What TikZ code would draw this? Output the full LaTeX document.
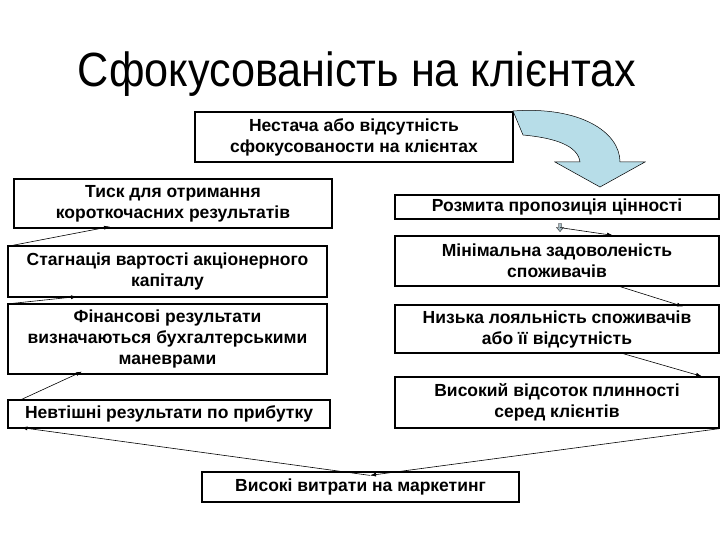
\documentclass[tikz,border=0pt]{standalone}
\usepackage{fontspec}
\setmainfont{Liberation Sans}
\newfontfamily\titlefont[FakeStretch=0.9]{Liberation Sans}
\usetikzlibrary{arrows.meta, positioning, calc}
\definecolor{arrowblue}{HTML}{B7DDE8}
\definecolor{icongray}{HTML}{A7BCC4}

\begin{document}
\begin{tikzpicture}[x=1pt, y=-1pt, >={Latex[length=6pt,width=4pt]},
  box/.style={draw, line width=1.2pt, align=center, inner sep=0pt,
    font=\fontsize{17.5}{21}\selectfont\bfseries},
  link/.style={->, line width=0.6pt}]
  \useasboundingbox (0,0) rectangle (720,540);

  % Title
  \node (title) at (357,74) {\titlefont\fontsize{48}{48}\selectfont Сфокусованість на клієнтах};

  % Top box and the curved block arrow
  \node[box, minimum width=318pt, minimum height=50pt] (lack) at (354,137)
    {Нестача або відсутність\\сфокусованости на клієнтах};
  \draw[fill=arrowblue, line width=0.5pt]
    (513,111) .. controls (580,106) and (620,132) .. (620,162)
    -- (645,162) -- (600,187) -- (555,162) -- (580,162)
    .. controls (578,146) and (556,138) .. (523,135) -- cycle;

  % Left column
  \node[box, minimum width=318pt, minimum height=49pt] (press) at (173,203.5)
    {Тиск для отримання\\короткочасних результатів};
  \node[box, minimum width=319pt, minimum height=51pt] (stag) at (167.5,271.5)
    {Стагнація вартості акціонерного\\капіталу};
  \node[box, minimum width=319pt, minimum height=70pt] (fin) at (167.5,339)
    {Фінансові результати\\визначаються бухгалтерськими\\маневрами};
  \node[box, minimum width=322pt, minimum height=28pt] (loss) at (169,414)
    {Невтішні результати по прибутку};

  % Right column
  \node[box, minimum width=324pt, minimum height=24pt] (blur) at (557,207)
    {Розмита пропозиція цінності};
  \node[box, minimum width=324pt, minimum height=50pt] (sat) at (557,261)
    {Мінімальна задоволеність\\споживачів};
  \node[box, minimum width=324pt, minimum height=48pt] (loyal) at (557,329)
    {Низька лояльність споживачів\\або її відсутність};
  \node[box, minimum width=324pt, minimum height=51pt] (churn) at (557,402.5)
    {Високий відсоток плинності\\серед клієнтів};

  % Bottom box
  \node[box, minimum width=317pt, minimum height=30pt] (cost) at (360.5,487)
    {Високі витрати на маркетинг};

  % small icon under the first right box
  \coordinate (blurtail) at ($(blur.south)+(3,8)$);
  \draw[fill=icongray, line width=0.3pt, shift={(blurtail)}]
    (-1.5,-4) -- (1.5,-4) -- (1.5,0) -- (3.5,0) -- (0,4) -- (-3.5,0) -- (-1.5,0) -- cycle;

  % connectors
  \draw[link] (blurtail) -- ([xshift=56pt]sat.north);
  \draw[link] ([xshift=63pt]sat.south) -- ([xshift=126pt,yshift=-2pt]loyal.north);
  \draw[link] ([xshift=66pt]loyal.south) -- ([xshift=145pt]churn.north);
  \draw[link] (churn.south east) -- ([xshift=9.5pt,yshift=-4pt]cost.north);
  \draw[link] ([xshift=9.5pt,yshift=-4pt]cost.north) -- ([xshift=14pt,yshift=1pt]loss.south west);
  \draw[link] ([xshift=12pt,yshift=-1pt]loss.north west) -- ([xshift=-85.5pt,yshift=3pt]fin.south);
  \draw[link] ([xshift=5pt]fin.north west) -- ([xshift=-90.5pt,yshift=1pt]stag.south);
  \draw[link] ([xshift=5pt]stag.north west) -- ([xshift=-63pt,yshift=2pt]press.south);
\end{tikzpicture}
\end{document}
